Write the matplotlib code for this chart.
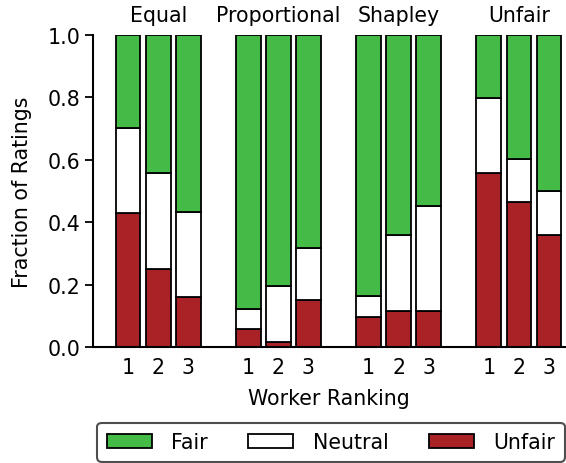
import matplotlib
matplotlib.use("Agg")
import matplotlib.pyplot as plt
import numpy as np

methods = ["Equal", "Proportional", "Shapley", "Unfair"]
rankings = ["1", "2", "3"]
unfair = [0.430, 0.249, 0.160, 0.058, 0.017, 0.151, 0.098, 0.117, 0.115, 0.558, 0.465, 0.360]
neutral = [0.270, 0.309, 0.273, 0.066, 0.180, 0.167, 0.065, 0.241, 0.336, 0.240, 0.138, 0.141]
fair = [1 - u - n for u, n in zip(unfair, neutral)]

c_fair = "#44BA47"
c_neutral = "#FFFFFF"
c_unfair = "#A82226"

FS = 14.8

fig = plt.figure(figsize=(5.66, 4.64), dpi=100)
ax = fig.add_axes([0.1638, 0.2494, 0.8362, 0.6736])

pos = []
for g in range(len(methods)):
    for r in range(len(rankings)):
        pos.append(g * 4 + r)
pos = np.array(pos)

w = 0.82
kw = dict(width=w, edgecolor="black", linewidth=1.3)
ax.bar(pos, unfair, color=c_unfair, label="Unfair", **kw)
ax.bar(pos, neutral, bottom=unfair, color=c_neutral, label="Neutral", **kw)
ax.bar(pos, fair, bottom=np.array(unfair) + np.array(neutral), color=c_fair, label="Fair", **kw)

ax.set_xlim(-1.18, 14.57)
ax.set_ylim(0, 1.0)
ax.set_xticks(pos)
ax.set_xticklabels(rankings * len(methods), fontsize=FS)
ax.tick_params(axis="x", length=0, pad=7)
ax.tick_params(axis="y", length=6, width=1.3, labelsize=FS, pad=3)
ax.set_yticks([0, 0.2, 0.4, 0.6, 0.8, 1.0])
ax.set_yticklabels(["0.0", "0.2", "0.4", "0.6", "0.8", "1.0"])
for s in ["top", "right"]:
    ax.spines[s].set_visible(False)
for s in ["left", "bottom"]:
    ax.spines[s].set_linewidth(1.5)

ax.set_ylabel("Fraction of Ratings", fontsize=FS, labelpad=11)
ax.set_xlabel("Worker Ranking", fontsize=FS, labelpad=8)

for g, m in enumerate(methods):
    ax.text(g * 4 + 1, 1.03, m, ha="center", va="bottom", fontsize=FS,
            transform=ax.get_xaxis_transform())

handles, labels = ax.get_legend_handles_labels()
order = [2, 1, 0]
leg = fig.legend([handles[i] for i in order], [labels[i] for i in order],
                 loc="center", bbox_to_anchor=(0.5848, 0.0445), ncol=3,
                 fontsize=FS, handlelength=2.2, handleheight=0.7,
                 columnspacing=1.95, handletextpad=0.95, frameon=True,
                 fancybox=True, borderpad=0.45, borderaxespad=0)
leg.get_frame().set_edgecolor("#222222")
leg.get_frame().set_linewidth(1.5)

fig.savefig("out.png", dpi=100)
